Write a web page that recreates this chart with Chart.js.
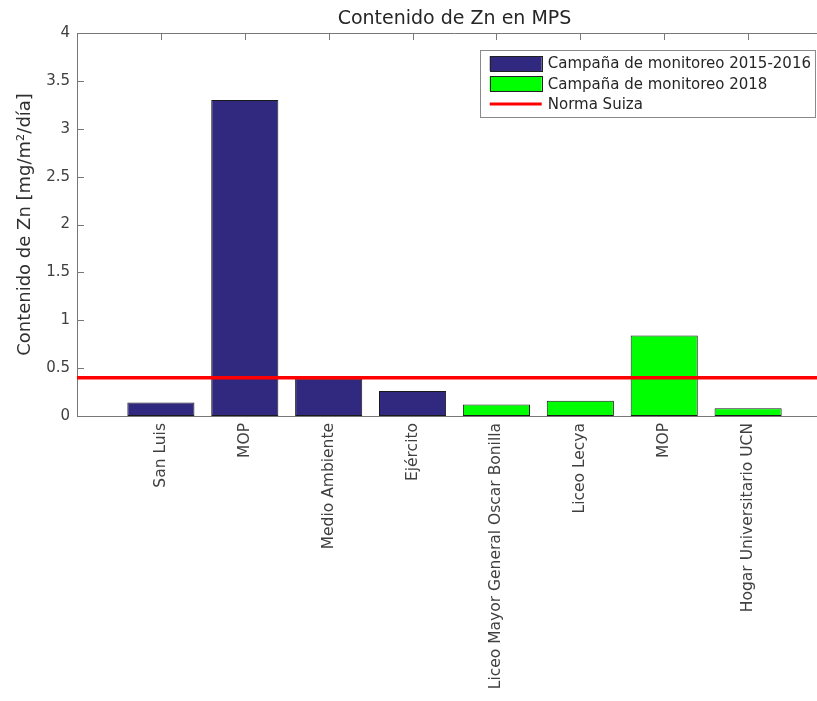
<!DOCTYPE html>
<html>
<head>
<meta charset="utf-8">
<script src="https://cdn.jsdelivr.net/npm/chart.js@4.4.1/dist/chart.umd.min.js"></script>
<style>
  html, body { margin: 0; padding: 0; background: #ffffff; overflow: hidden; }
  #wrap { position: relative; width: 832px; height: 701px; }
</style>
</head>
<body>
<div id="wrap"><canvas id="c"></canvas></div>
<script>
// ---- data ----
const categories = ['San Luis', 'MOP', 'Medio Ambiente', 'Ejército',
  'Liceo Mayor General Oscar Bonilla', 'Liceo Lecya', 'MOP', 'Hogar Universitario UCN'];
const campaign2015Labels = categories.slice(0, 4);
const campaign2015Values = [0.14, 3.30, 0.39, 0.26];
const campaign2018Labels = categories.slice(4, 8);
const campaign2018Values = [0.12, 0.16, 0.84, 0.08];
const normaSuiza = [0.4];
const yTicks = [0, 0.5, 1, 1.5, 2, 2.5, 3, 3.5, 4];
const seriesNames = ['Campaña de monitoreo 2015-2016', 'Campaña de monitoreo 2018', 'Norma Suiza'];
const chartTitle = 'Contenido de Zn en MPS';
const yTitle = 'Contenido de Zn [mg/m²/día]';

const FONT = '"DejaVu Sans", sans-serif';
const AXIS_COLOR = '#777777';
const TEXT_COLOR = '#404040';
const xMin = 0, xMax = categories.length + 1;

const pts2015 = campaign2015Values.map((v, i) => ({ x: i + 1, y: v }));
const pts2018 = campaign2018Values.map((v, i) => ({ x: campaign2015Values.length + i + 1, y: v }));

const frameTicks = {
  id: 'frameTicks',
  beforeDatasetsDraw(chart) {
    const ctx = chart.ctx, ca = chart.chartArea;
    const xs = chart.scales.x, ys = chart.scales.y;
    ctx.save();
    ctx.strokeStyle = AXIS_COLOR;
    ctx.lineWidth = 1;
    ctx.beginPath();
    ctx.moveTo(ca.left, ca.top + 0.5);
    ctx.lineTo(ca.right, ca.top + 0.5);
    ctx.moveTo(ca.right - 0.5, ca.top);
    ctx.lineTo(ca.right - 0.5, ca.bottom);
    const L = 7;
    categories.forEach((c, i) => {
      const px = Math.round(xs.getPixelForValue(i + 1)) + 0.5;
      ctx.moveTo(px, ca.top);
      ctx.lineTo(px, ca.top + L);
    });
    yTicks.forEach(v => {
      const py = Math.round(ys.getPixelForValue(v)) + 0.5;
      ctx.moveTo(ca.left, py);
      ctx.lineTo(ca.left + L, py);
    });
    ctx.stroke();
    ctx.restore();
  }
};

const boxLegend = {
  id: 'boxLegend',
  afterDatasetsDraw(chart) {
    const ctx = chart.ctx, ca = chart.chartArea;
    const sets = chart.data.datasets;
    ctx.save();
    ctx.font = '15px ' + FONT;
    const maxW = Math.max(...sets.map(d => ctx.measureText(d.label).width));
    const symW = 52, symH = 15, rowH = 20.3;
    const boxW = 10 + symW + 6 + maxW + 4;
    const boxH = 67;
    const right = ca.right - 17, top = ca.top + 17;
    const left = right - boxW;
    ctx.fillStyle = '#ffffff';
    ctx.fillRect(left, top, boxW, boxH);
    ctx.strokeStyle = '#8a8a8a';
    ctx.lineWidth = 1;
    ctx.strokeRect(Math.round(left) + 0.5, Math.round(top) + 0.5, Math.round(boxW), boxH);
    sets.forEach((d, i) => {
      const cy = top + 13.5 + i * rowH;
      const sx = left + 10;
      if (d.type === 'line') {
        ctx.strokeStyle = d.borderColor;
        ctx.lineWidth = 3;
        ctx.beginPath();
        ctx.moveTo(sx, cy);
        ctx.lineTo(sx + symW, cy);
        ctx.stroke();
      } else {
        ctx.fillStyle = d.backgroundColor;
        ctx.fillRect(sx, cy - symH / 2, symW, symH);
        ctx.strokeStyle = '#222222';
        ctx.lineWidth = 1;
        ctx.strokeRect(Math.round(sx) + 0.5, Math.round(cy - symH / 2) + 0.5, symW, symH);
      }
      ctx.fillStyle = '#262626';
      ctx.textAlign = 'left';
      ctx.textBaseline = 'middle';
      ctx.fillText(d.label, sx + symW + 6, cy + 1);
    });
    ctx.restore();
  }
};

new Chart(document.getElementById('c'), {
  type: 'bar',
  data: {
    datasets: [
      {
        label: seriesNames[0],
        data: pts2015,
        backgroundColor: '#31297f',
        borderColor: '#1a1a1a',
        borderWidth: 1,
        borderSkipped: false,
        grouped: false,
        barPercentage: 0.8,
        categoryPercentage: 1.0,
        order: 2
      },
      {
        label: seriesNames[1],
        data: pts2018,
        backgroundColor: '#00ff00',
        borderColor: '#1a1a1a',
        borderWidth: 1,
        borderSkipped: false,
        grouped: false,
        barPercentage: 0.8,
        categoryPercentage: 1.0,
        order: 2
      },
      {
        type: 'line',
        label: seriesNames[2],
        data: [{ x: xMin, y: normaSuiza[0] }, { x: xMax, y: normaSuiza[0] }],
        borderColor: '#ff0000',
        backgroundColor: '#ff0000',
        borderWidth: 3.5,
        pointRadius: 0,
        fill: false,
        order: 0
      }
    ]
  },
  options: {
    responsive: true,
    maintainAspectRatio: false,
    animation: false,
    devicePixelRatio: 1,
    layout: { padding: 0 },
    plugins: {
      legend: { display: false },
      tooltip: { enabled: false },
      title: { display: false }
    },
    scales: {
      x: {
        type: 'linear',
        offset: false,
        min: xMin,
        max: xMax,
        afterBuildTicks: (s) => { s.ticks = categories.map((c, i) => ({ value: i + 1 })); },
        afterFit: (s) => { s.height = 285; },
        grid: { display: false, drawTicks: false, offset: false },
        border: { display: true, color: AXIS_COLOR, width: 1 },
        ticks: {
          autoSkip: false,
          minRotation: 90,
          maxRotation: 90,
          padding: 7,
          color: TEXT_COLOR,
          font: { family: FONT, size: 15.5 },
          callback: (v) => categories[Math.round(v) - 1] || ''
        }
      },
      xTop: {
        type: 'linear',
        position: 'top',
        offset: false,
        min: xMin,
        max: xMax,
        afterFit: (s) => { s.height = 33; },
        grid: { display: false, drawTicks: false },
        border: { display: false },
        ticks: { display: false },
        title: {
          display: true,
          text: chartTitle,
          color: '#262626',
          font: { family: FONT, size: 19, weight: 'normal' },
          padding: { top: 8, bottom: 0 }
        }
      },
      y: {
        min: 0,
        max: 4,
        afterBuildTicks: (s) => { s.ticks = yTicks.map(v => ({ value: v })); },
        afterFit: (s) => { s.width = 77; },
        grid: { display: false, drawTicks: false },
        border: { display: true, color: AXIS_COLOR, width: 1 },
        ticks: {
          padding: 7,
          color: TEXT_COLOR,
          font: { family: FONT, size: 15 },
          callback: (v) => String(v)
        },
        title: {
          display: true,
          text: yTitle,
          color: '#303030',
          font: { family: FONT, size: 18, weight: 'normal' },
          padding: { top: 15, bottom: 0 }
        }
      }
    }
  },
  plugins: [frameTicks, boxLegend]
});
</script>
</body>
</html>
